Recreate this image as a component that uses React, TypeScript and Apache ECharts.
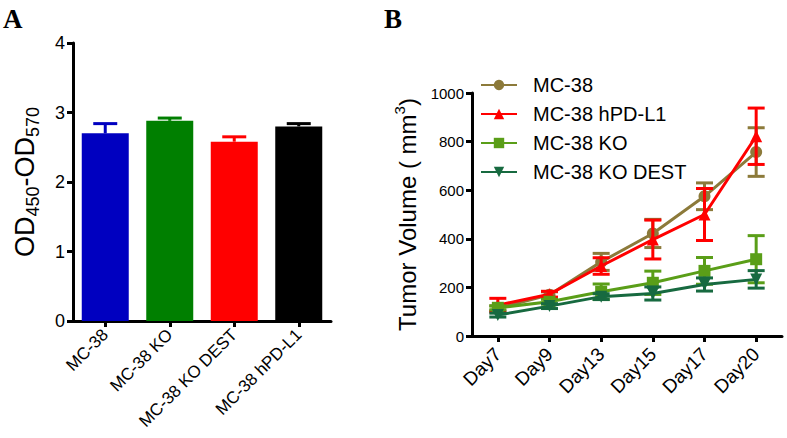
import React, { useEffect, useRef } from "react";
import * as echarts from "echarts";

// Panel A
const barCategories = ["MC-38", "MC-38 KO", "MC-38 KO DEST", "MC-38 hPD-L1"];
const barValues = [2.7, 2.88, 2.58, 2.8];
const barErrors = [0.14, 0.04, 0.07, 0.04];
const barColors = ["#0000c0", "#007f00", "#ff0000", "#000000"];

// Panel B
const days = ["Day7", "Day9", "Day13", "Day15", "Day17", "Day20"];
const mc38 = [114, 170, 305, 422, 575, 757];
const mc38Err = [10, 12, 35, 58, 55, 100];
const hpdl1 = [127, 172, 288, 397, 500, 822];
const hpdl1Err = [28, 12, 34, 80, 107, 116];
const ko = [116, 141, 182, 219, 268, 316];
const koErr = [8, 10, 32, 48, 55, 97];
const koDest = [86, 123, 162, 175, 212, 233];
const koDestErr = [8, 10, 12, 27, 27, 36];

const seriesNames = ["MC-38", "MC-38 hPD-L1", "MC-38 KO", "MC-38 KO DEST"];
const seriesColors = ["#8c7a3a", "#ff0000", "#5a9e18", "#176a40"];
const seriesSymbols = ["circle", "triangle", "rect", "triangle"];
const seriesRotate = [0, 0, 0, 180];

const FONT = "'Liberation Sans', Arial, sans-serif";

export default function App() {
  const ref = useRef<HTMLDivElement>(null);
  useEffect(() => {
    document.body.style.margin = "0";
    const chart = echarts.init(ref.current!, undefined, { renderer: "svg" });
    const means = [mc38, hpdl1, ko, koDest];
    const errs = [mc38Err, hpdl1Err, koErr, koDestErr];

    const errSeries = (idx: number) => ({
      type: "custom",
      name: "err" + idx,
      xAxisIndex: 1,
      yAxisIndex: 1,
      z: 3 + idx,
      data: days.map((_, i) => [i, means[idx][i] - errs[idx][i], means[idx][i] + errs[idx][i]]),
      encode: { x: 0, y: [1, 2] },
      renderItem: (params: any, api: any) => {
        const x = api.value(0);
        const lo = api.coord([x, api.value(1)]);
        const hi = api.coord([x, api.value(2)]);
        const hw = 8.5;
        const style = { stroke: seriesColors[idx], lineWidth: 3, fill: "none" };
        return {
          type: "group",
          children: [
            { type: "line", shape: { x1: lo[0], y1: lo[1], x2: hi[0], y2: hi[1] }, style },
            { type: "line", shape: { x1: lo[0] - hw, y1: lo[1], x2: lo[0] + hw, y2: lo[1] }, style },
            { type: "line", shape: { x1: hi[0] - hw, y1: hi[1], x2: hi[0] + hw, y2: hi[1] }, style },
          ],
        };
      },
    });

    const lineSeries = (idx: number) => ({
      type: "line",
      name: seriesNames[idx],
      xAxisIndex: 1,
      yAxisIndex: 1,
      z: 3 + idx,
      data: means[idx],
      symbol: seriesSymbols[idx],
      symbolRotate: seriesRotate[idx],
      symbolSize: 12,
      showAllSymbol: true,
      lineStyle: { color: seriesColors[idx], width: 3 },
      itemStyle: { color: seriesColors[idx] },
    });

    const axisLine = { show: true, lineStyle: { color: "#000", width: 3 } };
    const axisTick = { show: true, inside: false, length: 6, lineStyle: { color: "#000", width: 3 } };

    chart.setOption({
      animation: false,
      graphic: [
        { type: "text", left: 3, top: 5, style: { text: "A", font: "bold 27px 'Liberation Serif', serif", fill: "#000" } },
        { type: "text", left: 384, top: 5, style: { text: "B", font: "bold 27px 'Liberation Serif', serif", fill: "#000" } },
      ],
      legend: {
        data: seriesNames,
        orient: "vertical",
        left: 475,
        top: 70,
        itemWidth: 36,
        itemHeight: 13,
        itemGap: 9,
        textStyle: { fontSize: 20, color: "#000", fontFamily: FONT, padding: [0, 0, 0, 11], lineHeight: 20 },
      },
      grid: [
        { left: 73, width: 258, top: 43, height: 278 },
        { left: 472, width: 310, top: 93, height: 243 },
      ],
      xAxis: [
        {
          type: "category",
          gridIndex: 0,
          data: barCategories,
          axisLine,
          axisTick: { ...axisTick, alignWithLabel: true },
          axisLabel: { rotate: 45, fontSize: 17, color: "#000", fontFamily: FONT, margin: 11 },
        },
        {
          type: "category",
          gridIndex: 1,
          data: days,
          axisLine,
          axisTick: { ...axisTick, alignWithLabel: true },
          axisLabel: { rotate: 45, fontSize: 19, color: "#000", fontFamily: FONT, margin: 15 },
        },
      ],
      yAxis: [
        {
          type: "value",
          gridIndex: 0,
          min: 0,
          max: 4,
          interval: 1,
          splitLine: { show: false },
          axisLine,
          axisTick,
          axisLabel: { fontSize: 18, color: "#000", fontFamily: FONT, margin: 8 },
          name: "{m|OD}{s|450}{m|-OD}{s|570}",
          nameLocation: "middle",
          nameGap: 31,
          nameTextStyle: {
            fontFamily: FONT,
            rich: {
              m: { fontSize: 27, lineHeight: 34, color: "#000", fontFamily: FONT },
              s: { fontSize: 18, lineHeight: 18, verticalAlign: "bottom", color: "#000", fontFamily: FONT },
            },
          },
        },
        {
          type: "value",
          gridIndex: 1,
          min: 0,
          max: 1000,
          interval: 200,
          splitLine: { show: false },
          axisLine,
          axisTick,
          axisLabel: { fontSize: 15, color: "#000", fontFamily: FONT, margin: 8, formatter: (v: number) => String(v) },
          name: "{m|Tumor Volume ( mm}{p|3}{m|)}",
          nameLocation: "middle",
          nameGap: 50,
          nameTextStyle: {
            fontFamily: FONT,
            rich: {
              m: { fontSize: 24, lineHeight: 30, color: "#000", fontFamily: FONT },
              p: { fontSize: 15, lineHeight: 15, verticalAlign: "top", color: "#000", fontFamily: FONT },
            },
          },
        },
      ],
      series: [
        {
          type: "bar",
          name: "OD",
          xAxisIndex: 0,
          yAxisIndex: 0,
          barWidth: 47,
          data: barValues.map((v, i) => ({ value: v, itemStyle: { color: barColors[i] } })),
        },
        {
          type: "custom",
          name: "barErr",
          xAxisIndex: 0,
          yAxisIndex: 0,
          z: 1,
          data: barValues.map((v, i) => [i, v, v + barErrors[i]]),
          encode: { x: 0, y: [1, 2] },
          renderItem: (params: any, api: any) => {
            const x = api.value(0);
            const lo = api.coord([x, api.value(1)]);
            const hi = api.coord([x, api.value(2)]);
            const hw = 12;
            const style = { stroke: barColors[params.dataIndex], lineWidth: 3, fill: "none" };
            return {
              type: "group",
              children: [
                { type: "line", shape: { x1: lo[0], y1: lo[1], x2: hi[0], y2: hi[1] }, style },
                { type: "line", shape: { x1: hi[0] - hw, y1: hi[1], x2: hi[0] + hw, y2: hi[1] }, style },
              ],
            };
          },
        },
        errSeries(0),
        lineSeries(0),
        errSeries(1),
        lineSeries(1),
        errSeries(2),
        lineSeries(2),
        errSeries(3),
        lineSeries(3),
      ],
    });
    return () => chart.dispose();
  }, []);
  return <div ref={ref} style={{ width: 787, height: 438 }} />;
}
